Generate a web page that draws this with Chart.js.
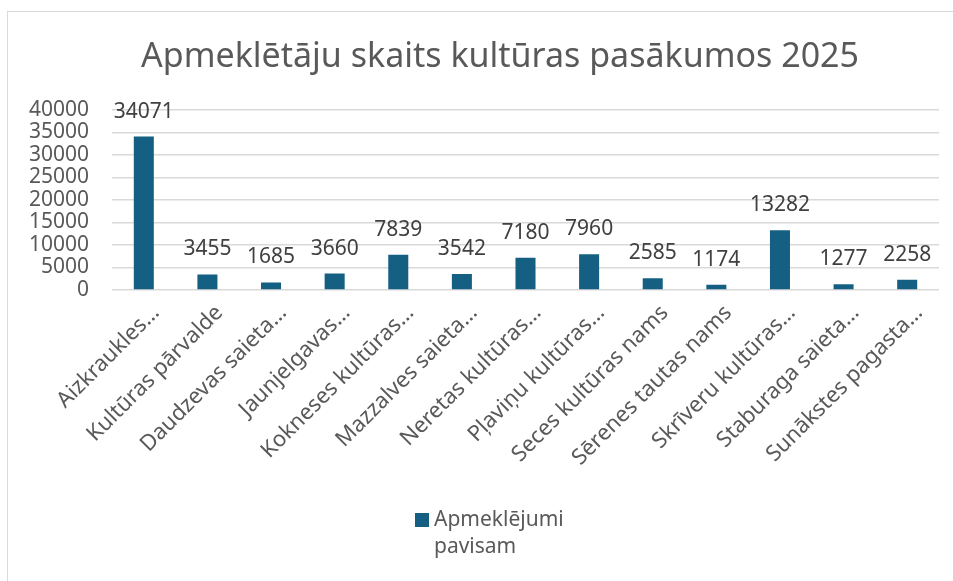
<!DOCTYPE html>
<html>
<head>
<meta charset="utf-8">
<script src="https://cdn.jsdelivr.net/npm/chart.js@4.4.1/dist/chart.umd.min.js"></script>
<style>
  body { margin: 0; background: #fff; overflow: hidden; width: 953px; height: 581px; }
  #wrap { position: absolute; left: 7px; top: 11px; width: 986px; height: 600px; border: 1px solid #d9d9d9; box-sizing: border-box; background: #fff; }
</style>
</head>
<body>
<div id="wrap"><canvas id="grafApmeklejumi"></canvas></div>
<script>
const kategorijas = ['Aizkraukles…', 'Kultūras pārvalde', 'Daudzevas saieta…', 'Jaunjelgavas…', 'Kokneses kultūras…', 'Mazzalves saieta…', 'Neretas kultūras…', 'Pļaviņu kultūras…', 'Seces kultūras nams', 'Sērenes tautas nams', 'Skrīveru kultūras…', 'Staburaga saieta…', 'Sunākstes pagasta…']
const apmeklejumi = [34071, 3455, 1685, 3660, 7839, 3542, 7180, 7960, 2585, 1174, 13282, 1277, 2258]
const yMin = 0
const yMax = 40000
const ySolis = 5000
const virsraksts = 'Apmeklētāju skaits kultūras pasākumos 2025'
const serijasNosaukums = 'Apmeklējumi pavisam'

const fonts = '"Noto Sans", sans-serif'

// vertibas virs stabiniem
const vertibuEtiketes = {
    id: 'vertibuEtiketes',
    afterDatasetsDraw(chart) {
        const ctx = chart.ctx
        ctx.save()
        ctx.font = '21px ' + fonts
        ctx.fillStyle = '#404040'
        ctx.textAlign = 'center'
        ctx.textBaseline = 'alphabetic'
        chart.getDatasetMeta(0).data.forEach((bar, i) => {
            ctx.fillText(String(chart.data.datasets[0].data[i]), bar.x, bar.y - 19)
        })
        ctx.restore()
    }
}

// legenda divas rindas
const legenda = {
    id: 'legenda',
    afterDraw(chart) {
        const ctx = chart.ctx
        const ds = chart.data.datasets[0]
        ctx.save()
        ctx.fillStyle = ds.backgroundColor
        ctx.fillRect(407, 501, 14, 14)
        ctx.font = '21px ' + fonts
        ctx.fillStyle = '#595959'
        ctx.textAlign = 'left'
        ctx.textBaseline = 'alphabetic'
        ds.label.split(' ').forEach((vards, i) => {
            ctx.fillText(vards, 426, 514 + i * 27)
        })
        ctx.restore()
    }
}

let grafApmeklejumi = new Chart(document.getElementById('grafApmeklejumi'), {
    type: 'bar',
    data: {
        labels: kategorijas,
        datasets: [{
            label: serijasNosaukums,
            backgroundColor: '#156082',
            data: apmeklejumi,
            barPercentage: 0.315,
            categoryPercentage: 1,
        }]
    },
    options: {
        responsive: true,
        maintainAspectRatio: false,
        animation: false,
        layout: {
            padding: 0
        },
        plugins: {
            legend: { display: false },
            tooltip: { enabled: false },
            title: {
                display: true,
                text: virsraksts,
                color: '#595959',
                font: { family: fonts, size: 34, weight: 'normal' },
                padding: { top: 25, bottom: 32 },
            },
        },
        scales: {
            x: {
                grid: { display: false, drawTicks: false },
                border: { display: false },
                ticks: {
                    color: '#595959',
                    font: { family: fonts, size: 22 },
                    minRotation: 45,
                    maxRotation: 45,
                    autoSkip: false,
                    padding: 10,
                    labelOffset: 12,
                },
                afterFit(scale) { scale.height = 320 },
            },
            y: {
                min: yMin,
                max: yMax,
                grid: { color: '#d9d9d9', lineWidth: 1.5, drawTicks: false },
                border: { display: false },
                ticks: {
                    stepSize: ySolis,
                    autoSkip: false,
                    color: '#595959',
                    font: { family: fonts, size: 21 },
                    padding: 23,
                    callback: (v) => String(v),
                },
                afterFit(scale) { scale.width = 104 },
            },
            // tukša labā ass, lai atstātu vietu pa labi
            tuksa: {
                position: 'right',
                grid: { display: false, drawTicks: false },
                border: { display: false },
                ticks: { display: false },
                afterFit(scale) { scale.width = 53 },
            },
        },
    },
    plugins: [vertibuEtiketes, legenda],
})
</script>
</body>
</html>
